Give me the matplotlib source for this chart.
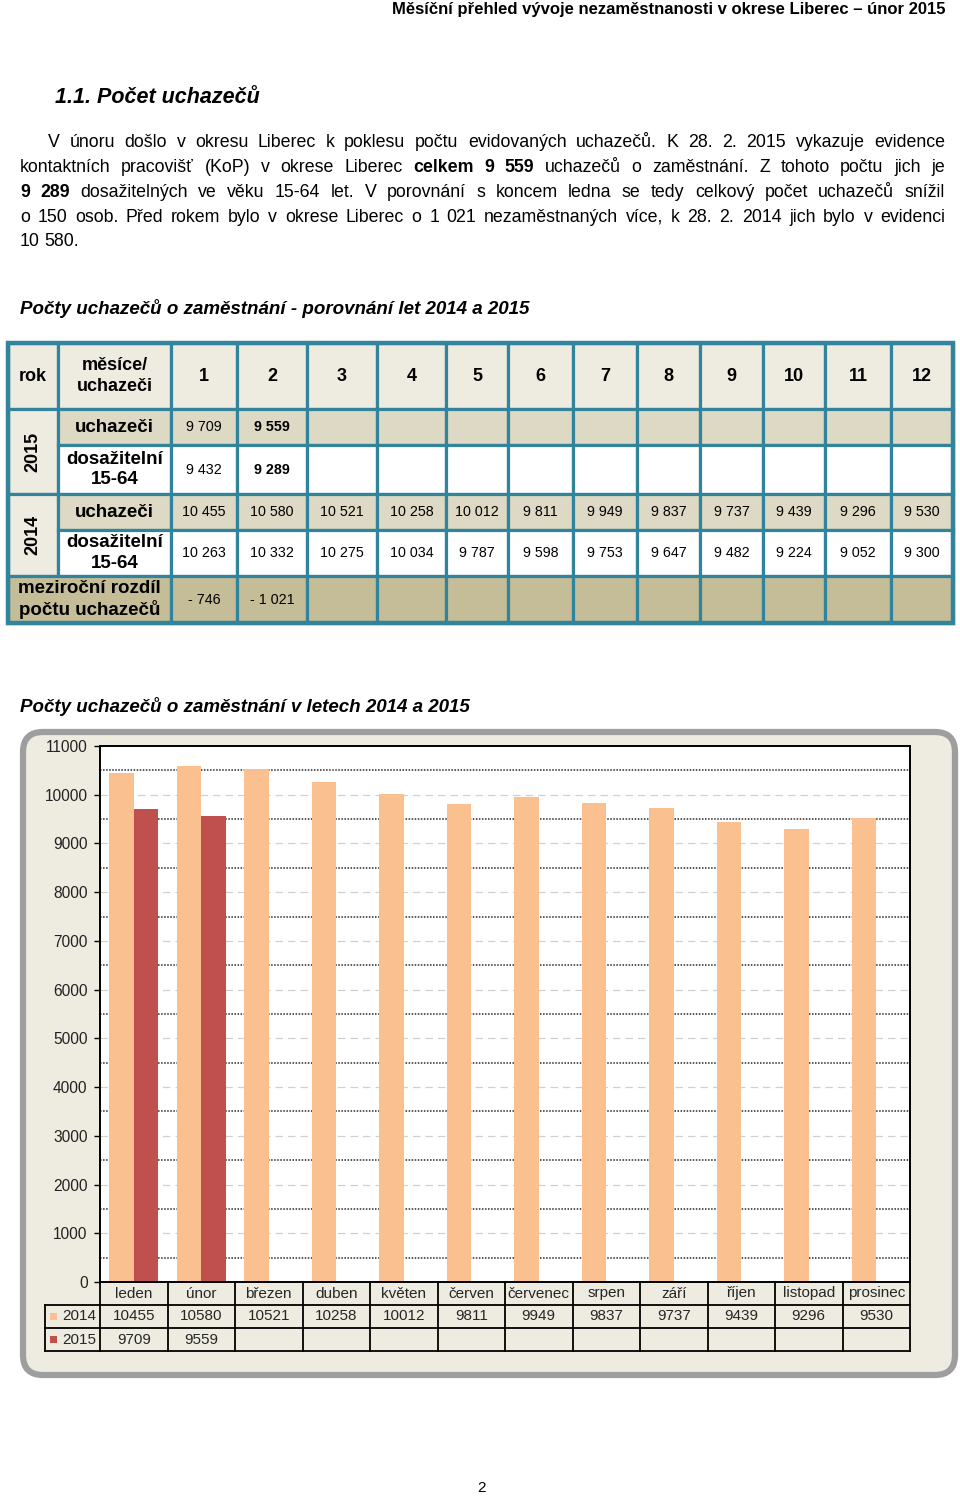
import matplotlib.pyplot as plt
from matplotlib.patches import Rectangle, FancyBboxPatch
from matplotlib.transforms import blended_transform_factory
import numpy as np

plt.rcParams['font.family'] = ['Liberation Sans', 'DejaVu Sans']

W, H = 960, 1496

# data
months = ["leden", "únor", "březen", "duben", "květen", "červen",
          "červenec", "srpen", "září", "říjen", "listopad", "prosinec"]
month_numbers = list(range(1, 13))
uchazeci_2014 = [10455, 10580, 10521, 10258, 10012, 9811, 9949, 9837, 9737, 9439, 9296, 9530]
uchazeci_2015 = [9709, 9559]
dosazitelni_2014 = [10263, 10332, 10275, 10034, 9787, 9598, 9753, 9647, 9482, 9224, 9052, 9300]
dosazitelni_2015 = [9432, 9289]
rozdil = [-746, -1021]
y_ticks = list(range(0, 11001, 1000))

paragraph = [
    "V únoru došlo v okresu Liberec k poklesu počtu evidovaných uchazečů. K 28. 2. 2015 vykazuje evidence",
    "kontaktních pracovišť (KoP) v okrese Liberec **celkem 9 559** uchazečů o zaměstnání. Z tohoto počtu jich je",
    "**9 289** dosažitelných ve věku 15-64 let. V porovnání s koncem ledna se tedy celkový počet uchazečů snížil",
    "o 150 osob. Před rokem bylo v okrese Liberec o 1 021 nezaměstnaných více, k 28. 2. 2014 jich bylo v evidenci",
    "10 580.",
]


def fmt(v):
    s = "{:,}".format(abs(v)).replace(",", " ")
    return "- " + s if v < 0 else s


fig = plt.figure(figsize=(9.6, 14.96), dpi=100)
bg = fig.add_axes([0, 0, 1, 1])
bg.set_xlim(0, W)
bg.set_ylim(H, 0)
bg.axis('off')
renderer = fig.canvas.get_renderer()

# header / headings
bg.text(945, 9, "Měsíční přehled vývoje nezaměstnanosti v okrese Liberec – únor 2015",
        ha='right', va='center', fontsize=12, fontweight='bold')
bg.text(55, 97, "1.1. Počet uchazečů", va='center', fontsize=15.5,
        fontweight='bold', style='italic')


def text_line(line, y, x0, x1, size, justify=True):
    parts = line.split("**")
    items = []
    for i, part in enumerate(parts):
        for word in part.split():
            t = bg.text(0, y, word, fontsize=size, va='center',
                        fontweight='bold' if i % 2 else 'normal')
            items.append((t, t.get_window_extent(renderer).width))
    total = sum(w for _, w in items)
    if justify and len(items) > 1:
        gap = (x1 - x0 - total) / (len(items) - 1)
    else:
        gap = 4.5
    x = x0
    for t, w in items:
        t.set_x(x)
        x += w + gap


line_y = [142, 167, 192, 217, 241]
for i, line in enumerate(paragraph):
    text_line(line, line_y[i], 48 if i == 0 else 20, 945, 12.8, justify=i < 4)

bg.text(20, 308, "Počty uchazečů o zaměstnání - porovnání let 2014 a 2015",
        va='center', fontsize=13.5, fontweight='bold', style='italic')

# ---- table ----
teal = '#31849B'
c_head = '#EEECE1'
c_uch = '#DDD9C4'
c_diff = '#C4BD97'
col_x = [8, 58, 171, 237, 307, 377, 446, 508, 573, 637, 700, 763, 825, 891, 953]
row_y = [343, 409, 445, 494, 530, 576, 623]


def cell(x0, x1, y0, y1, color, text="", size=12, bold=False, rot=0):
    bg.add_patch(Rectangle((x0, y0), x1 - x0, y1 - y0, fc=color, ec=teal, lw=2.3))
    if text:
        bg.text((x0 + x1) / 2, (y0 + y1) / 2, text, ha='center', va='center',
                fontsize=size, fontweight='bold' if bold else 'normal',
                rotation=rot, linespacing=1.25)


cell(col_x[0], col_x[1], row_y[0], row_y[1], c_head, "rok", 13, True)
cell(col_x[1], col_x[2], row_y[0], row_y[1], c_head, "měsíce/\nuchazeči", 13, True)
for j, m in enumerate(month_numbers):
    cell(col_x[j + 2], col_x[j + 3], row_y[0], row_y[1], c_head, str(m), 13, True)

blocks = [("2015", uchazeci_2015, dosazitelni_2015, 1), ("2014", uchazeci_2014, dosazitelni_2014, 3)]
for year, uch, dos, r in blocks:
    cell(col_x[0], col_x[1], row_y[r], row_y[r + 2], c_head, year, 13, True, rot=90)
    cell(col_x[1], col_x[2], row_y[r], row_y[r + 1], c_uch, "uchazeči", 13.5, True)
    cell(col_x[1], col_x[2], row_y[r + 1], row_y[r + 2], 'white', "dosažitelní\n15-64", 13.5, True)
    for j in range(12):
        last = year == "2015" and j == len(uch) - 1
        cell(col_x[j + 2], col_x[j + 3], row_y[r], row_y[r + 1], c_uch,
             fmt(uch[j]) if j < len(uch) else "", 10.3, last)
        cell(col_x[j + 2], col_x[j + 3], row_y[r + 1], row_y[r + 2], 'white',
             fmt(dos[j]) if j < len(dos) else "", 10.3, last)

cell(col_x[0], col_x[2], row_y[5], row_y[6], c_diff, "meziroční rozdíl\npočtu uchazečů", 13.5, True)
for j in range(12):
    cell(col_x[j + 2], col_x[j + 3], row_y[5], row_y[6], c_diff,
         fmt(rozdil[j]) if j < len(rozdil) else "", 10.3)
bg.add_patch(Rectangle((col_x[0], row_y[0]), col_x[-1] - col_x[0], row_y[-1] - row_y[0],
                       fc='none', ec=teal, lw=3.2))

# ---- chart ----
bg.text(20, 706, "Počty uchazečů o zaměstnání v letech 2014 a 2015",
        va='center', fontsize=13.5, fontweight='bold', style='italic')
bg.add_patch(FancyBboxPatch((23, 732), 932, 643, boxstyle='round,pad=0,rounding_size=20',
                            fc='#EEECE1', ec='#9E9E9E', lw=4.5))

ax = fig.add_axes([100 / W, 1 - 1282 / H, 810 / W, 536 / H])
ax.set_facecolor('white')
x = np.arange(len(months))
ax.set_xlim(-0.5, 11.5)
ax.set_ylim(0, 11000)
for v in range(1000, 11000, 1000):
    ax.axhline(v, color='#D0D0D0', lw=0.9, ls=(0, (6, 4)), zorder=0)
for v in range(500, 11000, 1000):
    ax.axhline(v, color='#2A2A2A', lw=1.1, ls=(0, (1, 1)), zorder=0)
ax.bar(x - 0.18, uchazeci_2014, width=0.36, color='#FAC090', zorder=2)
ax.bar(np.arange(len(uchazeci_2015)) + 0.18, uchazeci_2015, width=0.36, color='#C0504D', zorder=2)
for s in ax.spines.values():
    s.set_color('black')
    s.set_linewidth(1.4)
ax.set_xticks([])
ax.set_yticks(y_ticks)
ax.set_yticklabels([str(v) for v in y_ticks])
ax.tick_params(axis='y', length=4, width=1, pad=5, labelsize=11.2, labelcolor='#222222')

# data table under the chart
tr = blended_transform_factory(ax.transData, bg.transData)
tab_y = [1282, 1305, 1328, 1351]
for yy in tab_y[1:]:
    ax.plot([-0.5, 11.5], [yy, yy], transform=tr, color='black', lw=1.3, clip_on=False)
    bg.plot([45, 100], [yy, yy], color='black', lw=1.3)
bg.plot([45, 45], [tab_y[1], tab_y[3]], color='black', lw=1.3)
for i in range(13):
    ax.plot([i - 0.5, i - 0.5], [tab_y[0], tab_y[3]], transform=tr, color='black',
            lw=1.3, clip_on=False)
for i, m in enumerate(months):
    ax.text(i, (tab_y[0] + tab_y[1]) / 2, m, transform=tr, ha='center', va='center',
            fontsize=11, color='#262626')
    ax.text(i, (tab_y[1] + tab_y[2]) / 2, str(uchazeci_2014[i]), transform=tr,
            ha='center', va='center', fontsize=11, color='#262626')
for i, v in enumerate(uchazeci_2015):
    ax.text(i, (tab_y[2] + tab_y[3]) / 2, str(v), transform=tr,
            ha='center', va='center', fontsize=11, color='#262626')
for k, (lab, col) in enumerate([("2014", '#FAC090'), ("2015", '#C0504D')]):
    yc = (tab_y[k + 1] + tab_y[k + 2]) / 2
    bg.add_patch(Rectangle((50, yc - 3.5), 7, 7, fc=col, ec='none'))
    bg.text(96, yc, lab, ha='right', va='center', fontsize=11, color='#262626')

bg.text(482, 1488, "2", ha='center', va='center', fontsize=11)

fig.savefig("out.png", dpi=100)
